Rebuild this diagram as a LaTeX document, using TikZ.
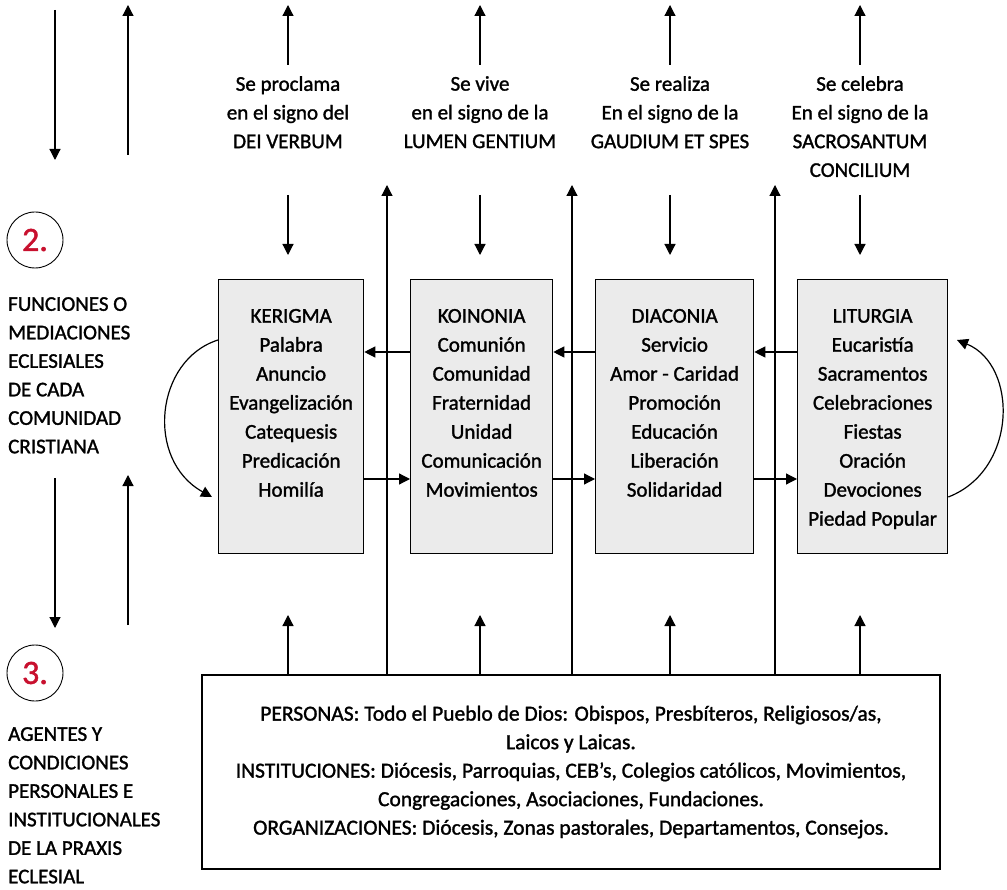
\documentclass[tikz,border=0pt]{standalone}
\usepackage{fontspec}
\setmainfont{Carlito}[FakeBold=1.4]
\usepackage{tikz}
\usetikzlibrary{arrows.meta,positioning}
\definecolor{boxgray}{HTML}{EBEBEB}
\definecolor{numred}{HTML}{C8102E}
\tikzset{
    func-box/.style = {draw, fill=boxgray, line width=1.3pt, rectangle, anchor=north west, inner sep=0pt, font=\fontsize{21}{29}\selectfont},
    agents-box/.style = {draw, line width=2.4pt, rectangle, minimum width=738pt, minimum height=194pt, align=center, inner sep=0pt, font=\fontsize{21.5}{28.5}\selectfont},
    num-circle/.style = {draw, circle, line width=0.9pt, minimum size=56pt, inner sep=0pt, text=numred, font=\fontsize{34}{34}\selectfont},
    side-text/.style = {anchor=north west, align=left, inner sep=0pt, font=\fontsize{21}{28.5}\selectfont},
    sign-text/.style = {anchor=north, align=center, inner sep=0pt, font=\fontsize{21}{28.7}\selectfont},
    link/.style = {line width=1.2pt, -{Triangle[length=11pt,width=11pt]}},
}

\begin{document}
\begin{tikzpicture}[x=1pt, y=-1pt]
\useasboundingbox (0,0) rectangle (1007,890);

% left column: numbers and captions
\node[num-circle] (num-two) at (35,240) {2.};
\node[num-circle] (num-three) at (35,673) {3.};
\node[side-text] (functions) at (8,297) {FUNCIONES O\\ MEDIACIONES\\ ECLESIALES\\ DE CADA\\ COMUNIDAD\\ CRISTIANA};
\node[side-text] (agents-caption) at (8,727) {AGENTES Y\\ CONDICIONES\\ PERSONALES E\\ INSTITUCIONALES\\ DE LA PRAXIS\\ ECLESIAL};
\draw[link] (55,10) -- (55,160);
\draw[link] (128,155) -- (128,5);
\draw[link] (55,478) -- (55,628);
\draw[link] (128,625) -- (128,475);

% the four functions
\node[func-box] (kerigma) at (218,279) {\begin{minipage}[t][274pt][t]{145pt}\centering
    \rule{0pt}{43pt}KERIGMA\\ Palabra\\ Anuncio\\ Evangelización\\ Catequesis\\ Predicación\\ Homilía
\end{minipage}};
\node[func-box] (koinonia) at (410,279) {\begin{minipage}[t][274pt][t]{142pt}\centering
    \rule{0pt}{43pt}KOINONIA\\ Comunión\\ Comunidad\\ Fraternidad\\ Unidad\\ Comunicación\\ Movimientos
\end{minipage}};
\node[func-box] (diaconia) at (595,279) {\begin{minipage}[t][274pt][t]{158pt}\centering
    \rule{0pt}{43pt}DIACONIA\\ Servicio\\ Amor - Caridad\\ Promoción\\ Educación\\ Liberación\\ Solidaridad
\end{minipage}};
\node[func-box] (liturgia) at (797,279) {\begin{minipage}[t][274pt][t]{150pt}\centering
    \rule{0pt}{43pt}LITURGIA\\ Eucaristía\\ Sacramentos\\ Celebraciones\\ Fiestas\\ Oración\\ Devociones\\ Piedad Popular
\end{minipage}};

% signs above
\node[sign-text] (proclama) at (288,76) {Se proclama\\ en el signo del\\ DEI VERBUM};
\node[sign-text] (vive) at (480,76) {Se vive\\ en el signo de la\\ LUMEN GENTIUM};
\node[sign-text] (realiza) at (670,76) {Se realiza\\ En el signo de la\\ GAUDIUM ET SPES};
\node[sign-text] (celebra) at (860,76) {Se celebra\\ En el signo de la\\ SACROSANTUM\\ CONCILIUM};

% agents
\node[agents-box] (agents) at (571,772) {PERSONAS: Todo el Pueblo de Dios: Obispos, Presbíteros, Religiosos/as,\\ Laicos y Laicas.\\ INSTITUCIONES: Diócesis, Parroquias, CEB’s, Colegios católicos, Movimientos,\\ Congregaciones, Asociaciones, Fundaciones.\\ ORGANIZACIONES: Diócesis, Zonas pastorales, Departamentos, Consejos.};

\foreach \x in {288,480,670,860} {
    \draw[link] (\x,65) -- (\x,5);
    \draw[link] (\x,195) -- (\x,255);
    \draw[link] (agents.north -| \x,0) -- (\x,615);
}
\foreach \x in {387,572,775}
    \draw[link] (agents.north -| \x,0) -- (\x,185);

% flow between the functions
\draw[link] (koinonia.west |- 0,352) -- (kerigma.east |- 0,352);
\draw[link] (diaconia.west |- 0,352) -- (koinonia.east |- 0,352);
\draw[link] (liturgia.west |- 0,352) -- (diaconia.east |- 0,352);
\draw[link] (kerigma.east |- 0,479) -- (koinonia.west |- 0,479);
\draw[link] (koinonia.east |- 0,479) -- (diaconia.west |- 0,479);
\draw[link] (diaconia.east |- 0,479) -- (liturgia.west |- 0,479);
\draw[link] (kerigma.west |- 0,340) .. controls (155,360) and (145,460) .. (212,497);
\draw[link] (liturgia.east |- 0,497) .. controls (1018,470) and (1018,365) .. (957,340);
\end{tikzpicture}
\end{document}
